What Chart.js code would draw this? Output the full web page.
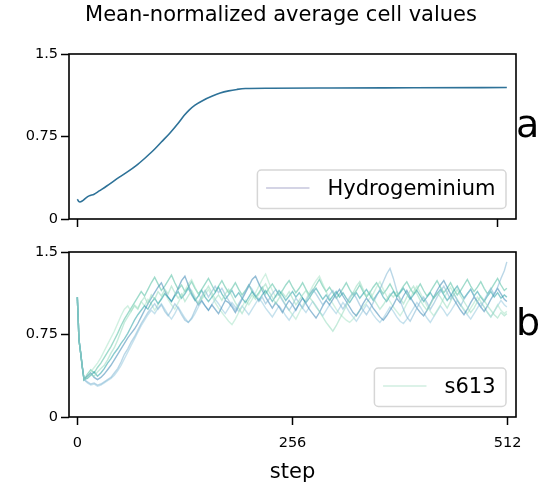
<!DOCTYPE html>
<html>
<head>
<meta charset="utf-8">
<script src="https://cdn.jsdelivr.net/npm/chart.js@4"></script>
<style>
html,body{margin:0;padding:0;background:#fff;}
#wrap{position:relative;width:548px;height:485px;}
canvas{position:absolute;left:0;top:0;}
</style>
</head>
<body>
<div id="wrap">
<canvas id="ca" width="548" height="485"></canvas>
<canvas id="cb" width="548" height="485"></canvas>
</div>
<script>
// ---------- data ----------
const titleText = 'Mean-normalized average cell values';
const topLabel = 'Hydrogeminium';
const bottomLabel = 's613';
const xTitle = 'step';
const yTicks = [0, 0.75, 1.5];
const xTicksBottom = [0, 256, 512];
const xTicksTop = [0, 500];

const topSteps  = [0, 2, 3, 6, 10, 14, 20, 26, 35, 50, 60, 70, 80, 90, 100, 110, 120, 127, 133, 140, 150, 160, 170, 180, 190, 200, 230, 300, 400, 511];
const topValues = [0.18, 0.157, 0.155, 0.165, 0.19, 0.21, 0.225, 0.255, 0.30, 0.38, 0.43, 0.485, 0.55, 0.62, 0.70, 0.78, 0.87, 0.94, 0.99, 1.035, 1.08, 1.115, 1.145, 1.165, 1.178, 1.186, 1.189, 1.191, 1.193, 1.195];

const steps = [
  0, 2, 4, 6, 8, 12, 16, 20, 24, 28,
  32, 36, 40, 44, 48, 52, 56, 60, 64, 68,
  72, 76, 80, 84, 88, 92, 96, 100, 104, 108,
  112, 116, 120, 124, 128, 132, 136, 140, 144, 148,
  152, 156, 160, 164, 168, 172, 176, 180, 184, 188,
  192, 196, 200, 204, 208, 212, 216, 220, 224, 228,
  232, 236, 240, 244, 248, 252, 256, 260, 264, 268,
  272, 276, 280, 284, 288, 292, 296, 300, 304, 308,
  312, 316, 320, 324, 328, 332, 336, 340, 344, 348,
  352, 356, 360, 364, 368, 372, 376, 380, 384, 388,
  392, 396, 400, 404, 408, 412, 416, 420, 424, 428,
  432, 436, 440, 444, 448, 452, 456, 460, 464, 468,
  472, 476, 480, 484, 488, 492, 496, 500, 504, 508,
  511
];

const runA = [
  1.09, 0.70, 0.58, 0.45, 0.34, 0.36, 0.39, 0.37, 0.41, 0.44,
  0.47, 0.52, 0.58, 0.63, 0.70, 0.78, 0.86, 0.91, 0.96, 1.01,
  0.98, 1.05, 1.09, 1.03, 1.11, 1.07, 1.14, 1.10, 1.16, 1.12,
  1.19, 1.13, 1.08, 1.12, 1.05, 1.10, 1.15, 1.09, 1.03, 1.08,
  1.14, 1.19, 1.13, 1.07, 1.11, 1.06, 1.12, 1.16, 1.10, 1.04,
  0.99, 0.94, 1.00, 1.06, 1.11, 1.07, 1.12, 1.17, 1.21, 1.14,
  1.09, 1.03, 1.08, 1.13, 1.09, 1.14, 1.08, 1.02, 1.06, 1.11,
  1.15, 1.09, 1.05, 1.00, 0.96, 0.91, 0.86, 0.82, 0.78, 0.83,
  0.89, 0.95, 1.01, 1.07, 1.13, 1.19, 1.23, 1.16, 1.10, 1.14,
  1.08, 1.03, 0.98, 1.02, 1.07, 1.12, 1.09, 1.14, 1.08, 1.03,
  1.09, 1.15, 1.19, 1.12, 1.06, 1.01, 0.97, 1.02, 1.08, 1.13,
  1.09, 1.04, 0.99, 1.05, 1.11, 1.16, 1.10, 1.05, 1.00, 0.95,
  0.99, 1.05, 1.10, 1.06, 1.01, 0.97, 0.93, 0.90, 0.95, 0.92,
  0.94
];
const runB = [
  1.09, 0.70, 0.58, 0.45, 0.34, 0.32, 0.30, 0.31, 0.29, 0.30,
  0.32, 0.34, 0.36, 0.40, 0.44, 0.50, 0.57, 0.62, 0.68, 0.73,
  0.79, 0.85, 0.90, 0.95, 0.99, 1.03, 0.98, 1.02, 0.96, 0.92,
  0.97, 1.03, 0.99, 0.93, 0.88, 0.86, 0.90, 0.97, 1.04, 1.10,
  1.15, 1.09, 1.14, 1.19, 1.13, 1.17, 1.11, 1.06, 1.02, 0.97,
  1.03, 1.08, 1.14, 1.20, 1.16, 1.10, 1.05, 1.09, 1.03, 1.07,
  1.12, 1.16, 1.11, 1.06, 1.01, 0.97, 1.02, 1.08, 1.04, 0.99,
  1.05, 1.11, 1.16, 1.12, 1.07, 1.02, 1.06, 1.11, 1.15, 1.09,
  1.03, 0.98, 1.03, 1.09, 1.13, 1.08, 1.02, 0.97, 0.93, 0.98,
  1.04, 1.10, 1.16, 1.23, 1.30, 1.35, 1.26, 1.15, 1.06, 0.98,
  0.91, 0.87, 0.93, 0.99, 1.05, 1.09, 1.04, 0.98, 1.03, 1.09,
  1.14, 1.19, 1.13, 1.07, 1.12, 1.06, 1.01, 1.07, 1.12, 1.16,
  1.10, 1.04, 1.00, 1.06, 1.12, 1.17, 1.11, 1.18, 1.26, 1.33,
  1.41
];
const runC = [
  1.09, 0.70, 0.58, 0.45, 0.34, 0.35, 0.38, 0.41, 0.37, 0.40,
  0.44, 0.49, 0.53, 0.58, 0.62, 0.67, 0.71, 0.76, 0.82, 0.88,
  0.93, 0.97, 1.01, 0.98, 1.04, 1.08, 1.03, 1.07, 1.12, 1.09,
  1.05, 1.10, 1.14, 1.08, 1.12, 1.17, 1.11, 1.06, 1.10, 1.15,
  1.09, 1.05, 1.09, 1.13, 1.18, 1.12, 1.07, 1.11, 1.15, 1.09,
  1.13, 1.08, 1.04, 1.09, 1.14, 1.10, 1.06, 1.11, 1.15, 1.10,
  1.05, 1.10, 1.15, 1.11, 1.06, 1.10, 1.14, 1.09, 1.13, 1.08,
  1.04, 1.08, 1.13, 1.17, 1.12, 1.07, 1.11, 1.06, 1.10, 1.14,
  1.09, 1.13, 1.08, 1.04, 1.09, 1.13, 1.08, 1.12, 1.16, 1.11,
  1.06, 1.11, 1.15, 1.09, 1.05, 1.10, 1.14, 1.09, 1.13, 1.17,
  1.12, 1.07, 1.11, 1.15, 1.10, 1.05, 1.09, 1.13, 1.08, 1.12,
  1.16, 1.11, 1.06, 1.10, 1.15, 1.19, 1.13, 1.08, 1.12, 1.16,
  1.10, 1.14, 1.09, 1.05, 1.10, 1.14, 1.09, 1.13, 1.08, 1.11,
  1.09
];
const runD = [
  1.09, 0.70, 0.58, 0.45, 0.34, 0.37, 0.40, 0.36, 0.34, 0.36,
  0.39, 0.43, 0.47, 0.52, 0.57, 0.62, 0.67, 0.72, 0.76, 0.80,
  0.85, 0.91, 0.97, 1.03, 1.08, 1.13, 1.18, 1.22, 1.15, 1.09,
  1.05, 1.11, 1.17, 1.24, 1.28, 1.20, 1.13, 1.07, 1.02, 1.06,
  1.01, 0.97, 1.02, 0.98, 0.94, 1.00, 1.06, 1.04, 1.00, 0.95,
  1.01, 1.07, 1.13, 1.19, 1.25, 1.28, 1.21, 1.15, 1.09, 1.04,
  0.99, 1.04, 1.00, 0.95, 1.01, 1.06, 1.02, 0.97, 1.03, 1.08,
  1.03, 0.98, 0.94, 0.90, 0.95, 1.01, 1.06, 1.02, 1.07, 1.12,
  1.16, 1.10, 1.05, 1.00, 0.95, 0.92, 0.97, 1.03, 1.08, 1.04,
  0.99, 0.95, 0.91, 0.88, 0.92, 0.97, 1.02, 1.08, 1.04, 1.10,
  1.15, 1.09, 1.04, 0.99, 0.95, 0.92, 0.97, 1.03, 1.09, 1.15,
  1.20, 1.24, 1.18, 1.12, 1.07, 1.02, 0.97, 0.93, 0.98, 1.04,
  1.09, 1.05, 1.00, 0.96, 1.01, 1.07, 1.12, 1.17, 1.12, 1.07,
  1.05
];
const runE = [
  1.09, 0.70, 0.58, 0.45, 0.34, 0.38, 0.41, 0.45, 0.49, 0.54,
  0.60, 0.66, 0.72, 0.78, 0.85, 0.92, 0.98, 1.01, 0.96, 1.02,
  0.99, 1.05, 1.01, 1.07, 1.03, 0.97, 1.02, 1.08, 1.13, 1.07,
  1.02, 0.98, 1.04, 1.10, 1.15, 1.21, 1.25, 1.18, 1.12, 1.07,
  1.11, 1.16, 1.10, 1.04, 0.99, 0.95, 0.91, 0.87, 0.84, 0.89,
  0.95, 1.00, 1.06, 1.02, 1.07, 1.13, 1.19, 1.25, 1.30, 1.22,
  1.15, 1.09, 1.13, 1.07, 1.02, 0.97, 0.93, 0.89, 0.95, 1.01,
  1.07, 1.13, 1.19, 1.24, 1.28, 1.21, 1.14, 1.08, 1.03, 0.98,
  0.94, 0.91, 0.88, 0.86, 0.89, 0.93, 0.97, 1.00, 1.04, 1.08,
  1.12, 1.18, 1.23, 1.16, 1.10, 1.05, 1.00, 0.96, 0.92, 0.97,
  1.03, 1.08, 1.14, 1.19, 1.13, 1.07, 1.01, 0.96, 0.92, 0.97,
  1.02, 1.08, 1.13, 1.18, 1.12, 1.07, 1.02, 0.98, 0.94, 0.99,
  1.04, 1.09, 1.05, 1.00, 0.95, 0.91, 0.96, 1.02, 0.97, 0.94,
  0.96
];
const runF = [
  1.09, 0.70, 0.58, 0.45, 0.34, 0.31, 0.29, 0.30, 0.28, 0.29,
  0.31, 0.33, 0.35, 0.38, 0.42, 0.47, 0.53, 0.59, 0.65, 0.71,
  0.77, 0.83, 0.88, 0.93, 0.97, 0.94, 0.99, 1.03, 0.98, 0.93,
  0.89, 0.94, 1.00, 0.95, 0.90, 0.86, 0.89, 0.94, 1.00, 1.05,
  1.01, 0.97, 1.02, 1.07, 1.03, 0.98, 0.94, 0.99, 1.04, 1.00,
  0.96, 1.01, 0.97, 0.93, 0.98, 1.03, 1.08, 1.04, 0.99, 0.95,
  0.91, 0.96, 1.01, 0.97, 0.92, 0.88, 0.93, 0.98, 1.03, 0.99,
  0.95, 1.00, 1.05, 1.01, 0.96, 0.92, 0.97, 1.02, 0.98, 0.94,
  0.99, 1.04, 1.00, 0.95, 0.91, 0.87, 0.92, 0.97, 1.02, 0.98,
  0.93, 0.89, 0.86, 0.90, 0.95, 1.00, 0.96, 0.91, 0.87, 0.85,
  0.89, 0.94, 0.99, 1.04, 1.00, 0.95, 0.90, 0.86, 0.91, 0.96,
  1.01, 0.97, 0.92, 0.96, 1.01, 1.06, 1.02, 0.97, 0.93, 0.89,
  0.94, 0.99, 1.04, 1.00, 0.95, 0.91, 0.96, 1.01, 1.06, 1.02,
  1.00
];
const runG = [
  1.09, 0.70, 0.58, 0.45, 0.34, 0.39, 0.43, 0.40, 0.45, 0.49,
  0.54, 0.59, 0.64, 0.70, 0.76, 0.83, 0.89, 0.94, 0.99, 1.04,
  1.09, 1.14, 1.10, 1.16, 1.22, 1.27, 1.21, 1.15, 1.19, 1.24,
  1.29, 1.22, 1.16, 1.20, 1.14, 1.18, 1.23, 1.17, 1.12, 1.16,
  1.21, 1.26, 1.20, 1.14, 1.19, 1.24, 1.18, 1.13, 1.17, 1.22,
  1.16, 1.11, 1.15, 1.20, 1.14, 1.09, 1.13, 1.18, 1.12, 1.17,
  1.21, 1.16, 1.11, 1.15, 1.20, 1.24, 1.18, 1.13, 1.17, 1.22,
  1.16, 1.11, 1.15, 1.20, 1.25, 1.19, 1.14, 1.18, 1.13, 1.08,
  1.12, 1.17, 1.22, 1.16, 1.11, 1.15, 1.20, 1.14, 1.09, 1.13,
  1.18, 1.22, 1.17, 1.12, 1.16, 1.21, 1.15, 1.10, 1.14, 1.19,
  1.23, 1.17, 1.12, 1.16, 1.21, 1.15, 1.10, 1.14, 1.19, 1.24,
  1.18, 1.13, 1.17, 1.22, 1.16, 1.11, 1.15, 1.20, 1.25, 1.19,
  1.14, 1.18, 1.23, 1.17, 1.12, 1.16, 1.21, 1.26, 1.20, 1.15,
  1.17
];
const runs = [runA, runB, runC, runD, runE, runF, runG];
const runColors = [
  'rgba(150,218,190,0.55)',
  'rgba(130,182,212,0.55)',
  'rgba(40,160,165,0.55)',
  'rgba(60,135,180,0.55)',
  'rgba(170,228,200,0.55)',
  'rgba(150,200,222,0.55)',
  'rgba(80,190,160,0.55)'
];

// ---------- helpers ----------
const FONT = 'DejaVu Sans';
const X_MIN = -9.9, X_MAX = 521.9;

function boxLegendPlugin(opts) {
  return {
    id: 'deco',
    afterDraw(chart) {
      const ctx = chart.ctx, a = chart.chartArea;
      ctx.save();
      ctx.strokeStyle = '#000';
      ctx.lineWidth = 1.6;
      ctx.strokeRect(a.left, a.top, a.right - a.left, a.bottom - a.top);
      ctx.font = '21px "' + FONT + '"';
      const w = ctx.measureText(opts.label).width;
      const boxRight = a.right - 10;
      const textRight = boxRight - 10.5;
      const textLeft = textRight - w;
      const lineEnd = textLeft - 18;
      const lineStart = lineEnd - 43.4;
      const boxLeft = lineStart - 8.7;
      const boxTop = a.bottom - 49;
      const boxBottom = a.bottom - 10.5;
      const lineY = a.bottom - 31;
      ctx.beginPath();
      ctx.roundRect(boxLeft, boxTop, boxRight - boxLeft, boxBottom - boxTop, 4);
      ctx.fillStyle = 'rgba(255,255,255,0.8)';
      ctx.fill();
      ctx.strokeStyle = '#d6d6d6';
      ctx.lineWidth = 1.5;
      ctx.stroke();
      ctx.beginPath();
      ctx.moveTo(lineStart, lineY);
      ctx.lineTo(lineEnd, lineY);
      ctx.strokeStyle = opts.legendColor;
      ctx.lineWidth = 1.5;
      ctx.stroke();
      ctx.fillStyle = '#000';
      ctx.textAlign = 'left';
      ctx.textBaseline = 'alphabetic';
      ctx.fillText(opts.label, textLeft, lineY + 7.2);
      ctx.font = '38px "' + FONT + '"';
      ctx.fillText(opts.letter, a.right, (a.top + a.bottom) / 2);
      if (opts.title) {
        ctx.font = '21px "' + FONT + '"';
        ctx.textAlign = 'center';
        ctx.fillText(opts.title, 281, 21);
      }
      ctx.restore();
    }
  };
}

function yScale() {
  return {
    type: 'linear', min: 0, max: 1.5,
    afterBuildTicks: s => { s.ticks = yTicks.map(v => ({value: v})); },
    afterFit: s => { s.width = 69; },
    ticks: { color: '#000', padding: 3, font: {family: FONT, size: 14.5}, callback: v => String(v) },
    grid: { display: true, drawOnChartArea: false, drawTicks: true, tickLength: 8, tickWidth: 1.5, tickColor: '#000' },
    border: { display: false }
  };
}

// ---------- top chart ----------
new Chart(document.getElementById('ca'), {
  type: 'line',
  data: {
    datasets: [{
      label: topLabel,
      data: topSteps.map((x, i) => ({x: x, y: topValues[i]})),
      borderColor: '#2e7298',
      borderWidth: 1.6,
      pointRadius: 0,
      cubicInterpolationMode: 'monotone',
      fill: false
    }]
  },
  options: {
    responsive: false, animation: false, devicePixelRatio: 1,
    layout: { padding: { top: 54, right: 32, bottom: 256, left: 0 } },
    plugins: { legend: { display: false }, tooltip: { enabled: false } },
    scales: {
      x: {
        type: 'linear', min: X_MIN, max: X_MAX,
        afterBuildTicks: s => { s.ticks = xTicksTop.map(v => ({value: v})); },
        afterFit: s => { s.height = 10; },
        ticks: { display: false },
        grid: { display: true, drawOnChartArea: false, drawTicks: true, tickLength: 8, tickWidth: 1.5, tickColor: '#000' },
        border: { display: false }
      },
      y: yScale()
    }
  },
  plugins: [boxLegendPlugin({label: topLabel, legendColor: '#c6c6dc', letter: 'a', title: titleText})]
});

// ---------- bottom chart ----------
new Chart(document.getElementById('cb'), {
  type: 'line',
  data: {
    datasets: runs.map((r, k) => ({
      label: bottomLabel,
      data: steps.map((x, i) => ({x: x, y: r[i]})),
      borderColor: runColors[k],
      borderWidth: 1.4,
      pointRadius: 0,
      tension: 0,
      fill: false
    }))
  },
  options: {
    responsive: false, animation: false, devicePixelRatio: 1,
    layout: { padding: { top: 252, right: 32, bottom: 0, left: 0 } },
    plugins: { legend: { display: false }, tooltip: { enabled: false } },
    scales: {
      x: {
        type: 'linear', min: X_MIN, max: X_MAX,
        afterBuildTicks: s => { s.ticks = xTicksBottom.map(v => ({value: v})); },
        afterFit: s => { s.height = 68; },
        ticks: { color: '#000', padding: 10, maxRotation: 0, font: {family: FONT, size: 14.5}, callback: v => String(v) },
        title: { display: true, text: xTitle, color: '#000', font: {family: FONT, size: 21}, padding: {top: 0, bottom: 0} },
        grid: { display: true, drawOnChartArea: false, drawTicks: true, tickLength: 8, tickWidth: 1.5, tickColor: '#000' },
        border: { display: false }
      },
      y: yScale()
    }
  },
  plugins: [boxLegendPlugin({label: bottomLabel, legendColor: '#d0eee0', letter: 'b'})]
});
</script>
</body>
</html>
